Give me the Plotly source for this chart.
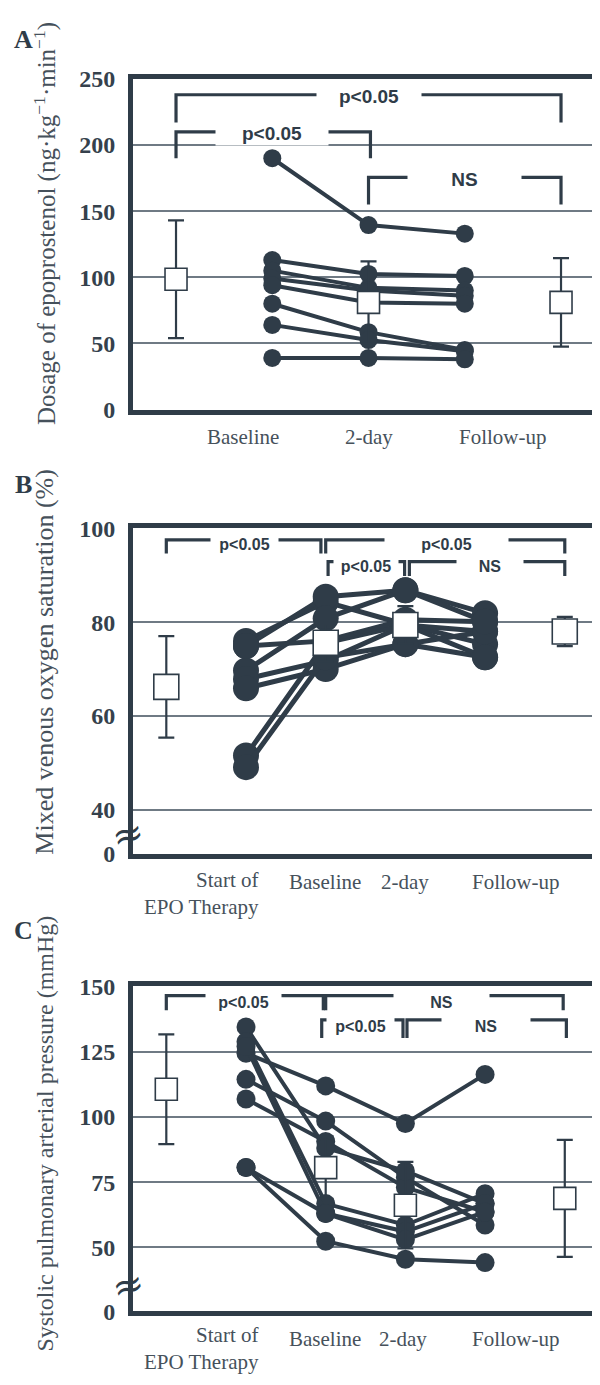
import plotly.graph_objects as go

# The page body has an 8px margin; the figure is sized so it ends at the window edge.
OFF = 8.0
W, H = 600.0 - OFF, 1385.0 - OFF
DARK = "#2f3c48"
GRID = "#6f7a84"
TXT = "#46515b"
SERIF = "Liberation Serif, Times New Roman, serif"
SANS = "Liberation Sans, Arial, sans-serif"

def px_x(px):
    return (px - OFF) / W

def px_y(px):
    return 1 - (px - OFF) / H

# ---------------- Panel A : epoprostenol dose ----------------
a_cat_labels = ["Baseline", "2-day", "Follow-up"]
a_cat_label_x = [0.7, 2.0, 3.4]
a_pat_x = [1, 2, 3]
a_patients = [
    [190, 139.5, 133],
    [113, 102.5, 101],
    [105, 92, 90],
    [99, 90, 86],
    [94, 81, 80],
    [80, 58.5, 45],
    [64, 52.5, 44],
    [39, 39, 38],
]
a_mean_x = [0, 2, 4]
a_mean = [98.5, 81, 81]
a_sd = [44.5, 31, 33.5]
a_ticks = [0, 50, 100, 150, 200, 250]
# brackets: x0, x1, y_top, y_leg0, y_leg1, label, label_x, gap_px
a_brackets = [
    (0, 4, 238, 217, 217, "p<0.05", 2.0, 102),
    (0, 2.02, 210, 190, 190, "p<0.05", 1.0, 110),
    (2, 4, 175.5, 155, 155, "NS", 3.0, 111),
]

# ---------------- Panel B : mixed venous O2 saturation ----------------
b_cat_labels = ["Start of<br>EPO Therapy", "Baseline", "2-day", "Follow-up"]
b_cat_label_x = [1.19, 1.99, 2.99, 4.39]
b_pat_x = [1, 2, 3, 4]
b_patients = [
    [76.0, 84.3, 79.5, 75.3],
    [74.9, 85.4, 86.8, 81.9],
    [69.7, 80.8, 86.8, 80.1],
    [67.9, 71.8, 79.4, 78.0],
    [65.9, 70.0, 75.3, 72.5],
    [51.6, 75.6, 79.4, 72.5],
    [49.1, 72.5, 75.3, 78.0],
    [74.9, 76.0, 80.5, 80.1],
]
b_mean_x = [0, 2, 3, 5]
b_mean = [66.2, 75.6, 79.4, 78.0]
b_sd = [10.8, 4.0, 4.0, 3.1]
b_ticks = [0, 40, 60, 80, 100]
b_brackets = [
    (0, 1.94, 97.5, 94.6, 94.6, "p<0.05", 0.98, 65),
    (2.0, 5.0, 97.5, 94.6, 94.6, "p<0.05", 3.52, 121),
    (2.03, 2.99, 92.9, 89.8, 89.8, "p<0.05", 2.51, 62),
    (3.05, 5.0, 92.9, 89.8, 89.8, "NS", 4.06, 64),
]

# ---------------- Panel C : systolic PAP ----------------
c_cat_labels = ["Start of<br>EPO Therapy", "Baseline", "2-day", "Follow-up"]
c_cat_label_x = [1.19, 1.99, 2.97, 4.39]
c_pat_x = [1, 2, 3, 4]
c_patients = [
    [124.4, 111.9, 97.5, 116.3],
    [114.4, 98.4, 76.8, 58.6],
    [106.9, 90.6, 73.0, 63.6],
    [134.5, 88.1, 79.3, 66.8],
    [128.8, 66.8, 58.6, 70.6],
    [127.0, 63.0, 56.1, 66.8],
    [80.6, 63.0, 53.0, 63.6],
    [80.6, 52.4, 45.5, 44.2],
]
c_mean_x = [0, 2, 3, 5]
c_mean = [110.6, 80.6, 66.2, 68.8]
c_sd = [21.0, 12.0, 16.6, 22.4]
c_ticks = [0, 50, 75, 100, 125, 150]
c_brackets = [
    (0, 1.97, 146.5, 140.9, 140.9, "p<0.05", 0.97, 73),
    (2.0, 4.98, 146.5, 140.9, 140.9, "NS", 3.45, 93),
    (1.95, 2.97, 137.2, 130.2, 130.2, "p<0.05", 2.44, 65),
    (3.02, 5.02, 137.2, 130.2, 130.2, "NS", 4.01, 86),
]

panels = [
    dict(key="", letter="A", letter_y=27,
         title="Dosage of epoprostenol (ng·kg<sup>−1</sup>·min<sup>−1</sup>)", title_y=215, title_size=25,
         top=67, bottom=404, yrange=[0, 250], zero_val=0, ticks=a_ticks,
         x_range=[-0.447, 4.405],
         cats=a_cat_labels, cat_x=a_cat_label_x, cat_y=432, two_line_y=None,
         pat_x=a_pat_x, patients=a_patients, mean_x=a_mean_x, mean=a_mean, sd=a_sd,
         brackets=a_brackets, dot=18, lw=4, sq=22, ptext=19, break_y=None, text_shift=-2),
    dict(key="2", letter="B", letter_y=480,
         title="Mixed venous oxygen saturation (%)", title_y=661, title_size=26,
         top=525, bottom=857, yrange=[30.6, 100], zero_val=30.6, ticks=b_ticks,
         x_range=[-0.418, 5.442],
         cats=b_cat_labels, cat_x=b_cat_label_x, cat_y=886, two_line_y=897,
         pat_x=b_pat_x, patients=b_patients, mean_x=b_mean_x, mean=b_mean, sd=b_sd,
         brackets=b_brackets, dot=26, lw=5, sq=25, ptext=16, break_y=837, text_shift=-5),
    dict(key="3", letter="C", letter_y=935,
         title="Systolic pulmonary arterial pressure (mmHg)", title_y=1142, title_size=24,
         top=992, bottom=1323, yrange=[25.6, 150], zero_val=25.6, ticks=c_ticks,
         x_range=[-0.418, 5.442],
         cats=c_cat_labels, cat_x=c_cat_label_x, cat_y=1351, two_line_y=1361,
         pat_x=c_pat_x, patients=c_patients, mean_x=c_mean_x, mean=c_mean, sd=c_sd,
         brackets=c_brackets, dot=19, lw=4, sq=22, ptext=16, break_y=1296, text_shift=-7),
]

fig = go.Figure()
annotations = []
layout = dict(
    width=W, height=H,
    margin=dict(l=0, r=0, t=0, b=0),
    paper_bgcolor="white", plot_bgcolor="white",
    showlegend=False,
)

for p in panels:
    k = p["key"]
    xa, ya = "x" + k, "y" + k
    # individual patients
    for vals in p["patients"]:
        fig.add_trace(go.Scatter(
            x=p["pat_x"], y=vals, mode="lines+markers", xaxis=xa, yaxis=ya,
            line=dict(color=DARK, width=p["lw"]),
            marker=dict(size=p["dot"], color=DARK), hoverinfo="skip"))
    # group mean +/- SD
    fig.add_trace(go.Scatter(
        x=p["mean_x"], y=p["mean"], mode="markers", xaxis=xa, yaxis=ya,
        marker=dict(symbol="square", size=p["sq"], color="white",
                    line=dict(color=DARK, width=1.6)),
        error_y=dict(type="data", array=p["sd"], color=DARK, thickness=2.2, width=8),
        hoverinfo="skip"))
    # significance brackets
    for (x0, x1, yt, yl0, yl1, lab, lx, gap) in p["brackets"]:
        fig.add_trace(go.Scatter(
            x=[x0, x0, x1, x1], y=[yl0, yt, yt, yl1], mode="lines",
            xaxis=xa, yaxis=ya, line=dict(color=DARK, width=3.2), hoverinfo="skip"))
        annotations.append(dict(
            x=lx, y=yt, xref=xa, yref=ya, text="<b>%s</b>" % lab.replace("<", "&lt;"),
            showarrow=False, font=dict(family=SANS, size=p["ptext"], color=DARK),
            bgcolor="white", width=gap, borderpad=1, yshift=p["text_shift"],
            xanchor="center", yanchor="middle"))
    # category labels
    for lab, cx in zip(p["cats"], p["cat_x"]):
        if "<br>" in lab:
            annotations.append(dict(x=cx, y=px_y(p["two_line_y"]), xref=xa, yref="paper",
                                    text=lab, showarrow=False, xanchor="right", yanchor="middle",
                                    align="right",
                                    font=dict(family=SERIF, size=21, color=TXT)))
        else:
            annotations.append(dict(x=cx, y=px_y(p["cat_y"]), xref=xa, yref="paper",
                                    text=lab, showarrow=False, xanchor="center", yanchor="middle",
                                    font=dict(family=SERIF, size=21, color=TXT)))
    # axis title
    annotations.append(dict(x=px_x(45), y=px_y(p["title_y"]), xref="paper", yref="paper",
                            text=p["title"], textangle=-90, showarrow=False,
                            xanchor="center", yanchor="middle",
                            font=dict(family=SERIF, size=p["title_size"], color=TXT)))
    # panel letter
    annotations.append(dict(x=px_x(23), y=px_y(p["letter_y"]), xref="paper", yref="paper",
                            text="<b>%s</b>" % p["letter"], showarrow=False,
                            xanchor="center", yanchor="middle",
                            font=dict(family=SERIF, size=26, color=DARK)))
    # axis break mark
    if p["break_y"] is not None:
        annotations.append(dict(x=px_x(128), y=px_y(p["break_y"]), xref="paper", yref="paper",
                                text="≈", textangle=-15, showarrow=False,
                                xanchor="center", yanchor="middle",
                                font=dict(family="DejaVu Serif", size=38, color=DARK)))

    tickvals = [p["zero_val"] if t == 0 else t for t in p["ticks"]]
    ticktext = [str(t) for t in p["ticks"]]
    layout["xaxis" + k] = dict(
        domain=[px_x(133), 1.0], range=p["x_range"], anchor=ya,
        showline=True, mirror=True, linewidth=5, linecolor=DARK,
        showgrid=False, zeroline=False, showticklabels=False, ticks="")
    layout["yaxis" + k] = dict(
        domain=[px_y(p["bottom"]), px_y(p["top"])], range=p["yrange"], anchor=xa,
        showline=True, mirror=False, linewidth=5, linecolor=DARK,
        showgrid=True, gridcolor=GRID, gridwidth=1.5, zeroline=False,
        tickmode="array", tickvals=tickvals, ticktext=ticktext, ticks="",
        ticklabelstandoff=8,
        tickfont=dict(family=SERIF, size=24, color="#35414c", weight="bold"))

layout["annotations"] = annotations
fig.update_layout(**layout)
fig.write_html("out.html")
